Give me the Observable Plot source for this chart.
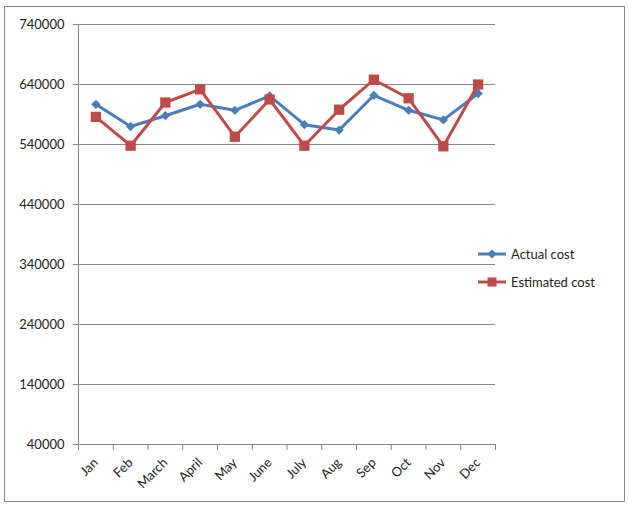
<!DOCTYPE html>
<html><head><meta charset="utf-8">
<script src="https://cdn.jsdelivr.net/npm/d3@7"></script>
<script src="https://cdn.jsdelivr.net/npm/@observablehq/plot@0.6"></script>
<style>
body{margin:0;background:#fff;font-family:Lato,sans-serif;}
#wrap{position:relative;width:629px;height:508px;overflow:hidden;}
#border{position:absolute;left:4px;top:6px;width:619px;height:494px;border:1px solid #8a8a8a;pointer-events:none;}
#legend{position:absolute;left:478px;top:240px;font-size:13px;color:#222;}
.item{display:flex;align-items:center;height:28px;}
.item svg{margin-right:4px;}
</style></head><body>
<div id="wrap"><div id="chart"></div><div id="border"></div><div id="legend"></div></div>
<script>
const months = ["Jan","Feb","March","April","May","June","July","Aug","Sep","Oct","Nov","Dec"];
const actualCost = [607000, 570000, 588000, 607000, 597000, 621000, 573000, 564000, 622000, 597000, 581000, 625000];
const estimatedCost = [586000, 538000, 610000, 632000, 553000, 615000, 538000, 598000, 648000, 617000, 537000, 640000];
const yTicks = [40000, 140000, 240000, 340000, 440000, 540000, 640000, 740000];
const seriesNames = ["Actual cost", "Estimated cost"];
const seriesColors = ["#4A7EBB", "#BE4B48"];

const rows = months.map((m, i) => ({i: i + 0.5, month: m, actual: actualCost[i], estimated: estimatedCost[i]}));
const grid = "#878787";

const chart = Plot.plot({
  width: 629, height: 508,
  marginLeft: 78, marginRight: 134, marginTop: 24, marginBottom: 64,
  x: {type: "linear", domain: [0, months.length], axis: null, label: null},
  y: {domain: [40000, 740000], axis: null, label: null},
  style: {fontFamily: "Lato, sans-serif", fontSize: "13px", color: "#222", background: "white"},
  marks: [
    Plot.gridY(yTicks, {stroke: grid, strokeOpacity: 1}),
    Plot.axisY(yTicks, {tickSize: 5, tickPadding: 9, tickFormat: d => String(d), stroke: grid, fill: "#222", label: null}),
    Plot.ruleX([0], {stroke: grid}),
    Plot.axisX(d3.range(0, months.length + 1), {tickSize: 6, tickFormat: () => "", stroke: grid, label: null}),
    Plot.axisX(rows.map(d => d.i), {tickSize: 0, tickRotate: -45, tickPadding: 16, dx: 0, tickFormat: (d, i) => months[i], fill: "#222", label: null}),
    Plot.line(rows, {x: "i", y: "actual", stroke: seriesColors[0], strokeWidth: 3}),
    Plot.dot(rows, {x: "i", y: "actual", symbol: "diamond2", r: 4.2, fill: seriesColors[0], stroke: "none"}),
    Plot.line(rows, {x: "i", y: "estimated", stroke: seriesColors[1], strokeWidth: 3}),
    Plot.dot(rows, {x: "i", y: "estimated", symbol: "square", r: 5.8, fill: seriesColors[1], stroke: "none"})
  ]
});
document.getElementById("chart").appendChild(chart);

const legend = document.getElementById("legend");
seriesNames.forEach((name, k) => {
  const item = document.createElement("div");
  item.className = "item";
  const marker = k === 0
    ? `<path d="M14 1.5 L18.5 6 L14 10.5 L9.5 6 Z" fill="${seriesColors[k]}"/>`
    : `<rect x="9.5" y="1.5" width="9" height="9" fill="${seriesColors[k]}"/>`;
  item.innerHTML = `<svg width="29" height="12"><line x1="0" x2="28" y1="6" y2="6" stroke="${seriesColors[k]}" stroke-width="3"/>${marker}</svg><span>${name}</span>`;
  legend.appendChild(item);
});
</script>
</body></html>
